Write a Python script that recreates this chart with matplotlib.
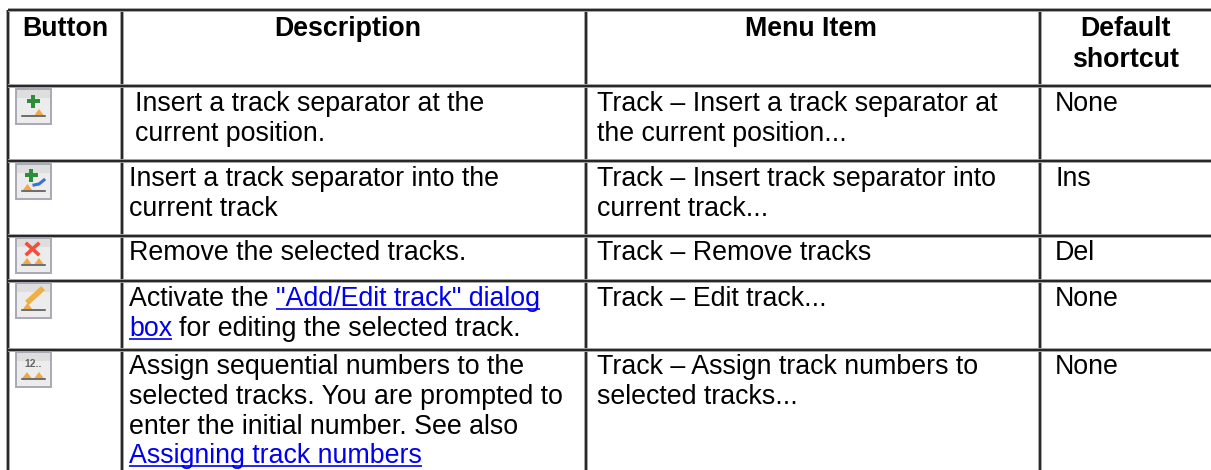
import matplotlib
matplotlib.use('Agg')
import matplotlib.pyplot as plt
from matplotlib.patches import Rectangle, Polygon

plt.rcParams['font.family'] = ['Liberation Sans', 'DejaVu Sans']

W, H = 1211, 470
FS = 19.3
col_lines = [8, 121.5, 586, 1040]
row_lines = [10, 86, 161, 235.5, 281, 349.5]

headers = [("Button", 65), ("Description", 348), ("Menu Item", 811), ("Default\nshortcut", 1126)]
desc = [
    [("Insert a track separator at the", 135, 0), ("current position.", 135, 0)],
    [("Insert a track separator into the", 129, 0), ("current track", 129, 0)],
    [("Remove the selected tracks.", 129, 0)],
    [("Activate the", 129, 0), ("box", 129, 1)],
    [("Assign sequential numbers to the", 129, 0), ("selected tracks. You are prompted to", 129, 0),
     ("enter the initial number. See also", 129, 0), ("Assigning track numbers", 129, 1)],
]
menu = [
    ["Track \u2013 Insert a track separator at", "the current position..."],
    ["Track \u2013 Insert track separator into", "current track..."],
    ["Track \u2013 Remove tracks"],
    ["Track \u2013 Edit track..."],
    ["Track \u2013 Assign track numbers to", "selected tracks..."],
]
shortcuts = ["None", "Ins", "Del", "None", "None"]
first_base = [111, 186, 260, 306, 374]
LINE = 29.8
icon_tops = [89, 164, 238, 283, 352]
icon_kinds = ['plus', 'plus2', 'x', 'pen', 'num']

fig = plt.figure(figsize=(W / 100, H / 100), dpi=100, facecolor='white')
ax = fig.add_axes([0, 0, 1, 1])
ax.set_xlim(0, W)
ax.set_ylim(H, 0)
ax.axis('off')

GRID = '#1c1c1c'
for x in col_lines:
    ax.plot([x, x], [row_lines[0], H], color='#a0a0a0', lw=2.8, solid_capstyle='butt')
    ax.plot([x, x], [row_lines[0], H], color=GRID, lw=1.3, solid_capstyle='butt')
for y in row_lines:
    ax.plot([col_lines[0], W], [y, y], color='#a0a0a0', lw=2.8, solid_capstyle='butt')
    ax.plot([col_lines[0], W], [y, y], color=GRID, lw=1.3, solid_capstyle='butt')


def txt(x, y, s, **kw):
    return ax.text(x, y, s, fontsize=FS, color='black', va='baseline', **kw)


def link(x, y, s):
    t = ax.text(x, y, s, fontsize=FS, color='#0000ee', va='baseline')
    fig.canvas.draw()
    bb = t.get_window_extent()
    ax.plot([x, bb.x1], [y + 3, y + 3], color='#0000ee', lw=1.2, solid_capstyle='butt')
    return bb.x1


for (s, cx) in headers:
    for i, l in enumerate(s.split('\n')):
        ax.text(cx, 36 + i * 31, l, fontsize=FS, fontweight='bold', ha='center', va='baseline', color='black')

for r, rows in enumerate(desc):
    for i, (s, x, is_link) in enumerate(rows):
        y = first_base[r] + i * LINE
        if is_link:
            end = link(x, y, s)
            if r == 3:
                txt(end + 7, y, "for editing the selected track.")
        else:
            t = txt(x, y, s)
            if r == 3 and i == 0:
                fig.canvas.draw()
                link(t.get_window_extent().x1 + 7, y, '"Add/Edit track" dialog')

for r, rows in enumerate(menu):
    for i, s in enumerate(rows):
        txt(597, first_base[r] + i * LINE, s)
for r, s in enumerate(shortcuts):
    txt(1055, first_base[r], s)


def icon(top, kind):
    x0, s = 16, 34.5
    ax.add_patch(Rectangle((x0, top), s, s, fc='#ececec', ec='#a9a9b6', lw=1.4, zorder=2))
    ax.add_patch(Rectangle((x0 + 1, top + 1), s - 2, 8, fc='#dedede', ec='none', zorder=2))
    if kind in ('plus', 'plus2'):
        cx, cy = (x0 + 17, top + 12) if kind == 'plus' else (x0 + 15, top + 11)
        ax.add_patch(Rectangle((cx - 6.5, cy - 1.8), 13, 3.6, fc='#2a8f38', ec='none', zorder=3))
        ax.add_patch(Rectangle((cx - 1.8, cy - 6.5), 3.6, 13, fc='#2a8f38', ec='none', zorder=3))
    if kind == 'plus2':
        ax.plot([x0 + 18, x0 + 23, x0 + 28], [top + 21, top + 20, top + 16],
                color='#3b6fd8', lw=2.2, zorder=3)
    if kind == 'x':
        ax.plot([x0 + 11, x0 + 22], [top + 6, top + 16], color='#f0503c', lw=2.6, zorder=3)
        ax.plot([x0 + 22, x0 + 11], [top + 6, top + 16], color='#f0503c', lw=2.6, zorder=3)
    if kind == 'pen':
        ax.plot([x0 + 13, x0 + 25], [top + 18, top + 7], color='#eeb040', lw=4, zorder=3)
    if kind == 'num':
        ax.text(x0 + 17, top + 15, '12..', fontsize=7.5, ha='center', va='baseline',
                color='#666666', fontweight='bold', zorder=3)
    ax.plot([x0 + 6, x0 + 29], [top + 26.5, top + 26.5], color='#4a4a4a', lw=1.1, zorder=3)
    if kind == 'plus':
        centers = [x0 + 23]
    elif kind in ('plus2', 'pen'):
        centers = [x0 + 11.5]
    else:
        centers = [x0 + 11, x0 + 23]
    for c in centers:
        ax.add_patch(Polygon([(c - 4.5, top + 26), (c, top + 20), (c + 4.5, top + 26)],
                             fc='#f0a848', ec='none', zorder=3))


for top, kind in zip(icon_tops, icon_kinds):
    icon(top, kind)

fig.savefig('out.png', dpi=100, facecolor='white')
